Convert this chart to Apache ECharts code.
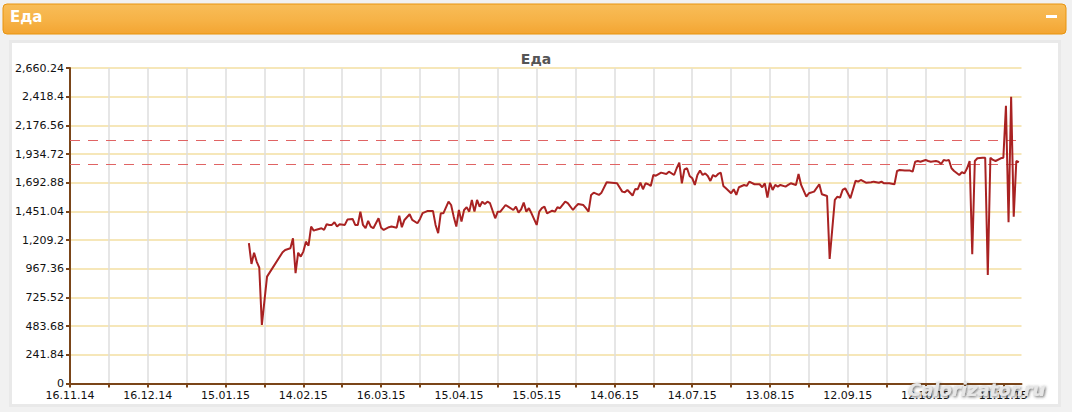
<!DOCTYPE html>
<html>
<head>
<meta charset="utf-8">
<script src="https://cdn.jsdelivr.net/npm/echarts@6/dist/echarts.min.js"></script>
<style>
html,body{margin:0;padding:0;background:#f1f1f1;}
#c{width:1072px;height:412px;}
</style>
</head>
<body>
<div id="c"></div>
<script>
// ---- data ----
const startDate = [2014, 10, 16]; // 16.11.14 = day 0 of the x axis
const dayOffsets = [69,70,71,72,73,74,76,82,83,85,86,87,88,89,90,91,92,93,94,95,97,98,99,100,101,102,103,104,106,107,109,110,111,112,113,114,115,116,117,119,120,121,123,124,126,127,128,129,131,132,134,135,136,138,140,141,142,143,144,146,147,148,149,150,151,152,153,154,155,156,157,158,159,160,161,162,164,165,166,168,169,171,172,173,174,175,176,177,178,180,181,182,183,184,186,187,188,189,191,192,194,195,196,198,199,200,201,202,204,205,207,209,211,213,214,215,217,218,219,220,221,222,223,224,225,226,228,230,231,233,234,235,236,237,238,239,240,241,242,243,244,245,246,247,248,249,250,251,252,253,255,256,257,258,260,261,262,264,265,266,267,268,269,270,271,272,273,274,276,277,278,280,281,282,284,285,287,289,290,292,293,295,296,297,298,299,300,301,303,304,305,307,309,310,312,313,314,316,318,319,320,322,324,325,326,327,328,330,331,332,334,335,336,337,338,339,340,341,343,344,345,346,347,348,349,350,352,353,354,355,356,357,359,360,361,362,363,364,365,366];
const foodKcal = [1183,1008,1103,1028,977,494,901,1107,1126,1140,1225,930,1103,1070,1112,1196,1162,1323,1289,1297,1309,1295,1343,1337,1337,1360,1323,1343,1337,1382,1388,1337,1337,1449,1337,1309,1371,1323,1309,1393,1314,1295,1318,1323,1314,1415,1318,1379,1427,1379,1351,1388,1436,1455,1455,1337,1267,1435,1435,1533,1505,1407,1323,1463,1365,1463,1486,1449,1548,1449,1548,1491,1533,1514,1533,1520,1393,1449,1449,1505,1491,1463,1491,1440,1469,1525,1449,1478,1435,1337,1449,1478,1491,1435,1457,1449,1486,1478,1533,1520,1463,1491,1514,1505,1478,1449,1590,1609,1590,1609,1697,1693,1688,1618,1612,1632,1585,1640,1638,1693,1638,1688,1680,1666,1758,1752,1778,1767,1786,1758,1815,1862,1688,1806,1815,1750,1731,1674,1758,1795,1758,1772,1750,1708,1758,1744,1767,1778,1666,1646,1604,1638,1590,1655,1674,1666,1702,1680,1680,1680,1655,1688,1567,1693,1632,1674,1660,1674,1660,1674,1688,1674,1767,1674,1575,1604,1618,1680,1596,1581,1050,1548,1575,1567,1632,1646,1604,1562,1710,1702,1716,1693,1697,1702,1693,1702,1688,1688,1680,1792,1800,1795,1795,1786,1870,1876,1870,1885,1876,1870,1876,1870,1851,1885,1879,1885,1815,1792,1758,1781,1772,1815,1876,1090,1876,1899,1904,1904,915,1904,1885,1876,1899,1904,2342,1360,2418,1407,1876,1866];
const normLines = [2050, 1850];
const yMax = 2660.24, yStep = 241.84;
const xMaxDay = 367, xTickDays = 15, xLabelDays = 30;
const panelTitle = 'Еда';
const chartTitle = 'Еда';
const watermark = 'Calorizator.ru';

// ---- helpers ----
const base = Date.UTC(startDate[0], startDate[1], startDate[2]);
function dayLabel(v){
  const d = new Date(base + v*86400000);
  const p = n => String(n).padStart(2,'0');
  return p(d.getUTCDate()) + '.' + p(d.getUTCMonth()+1) + '.' + p(d.getUTCFullYear()%100);
}
function numLabel(v){
  const r = Math.round(v*100)/100;
  let s = r.toFixed(2).replace(/\.?0+$/,'');
  const parts = s.split('.');
  parts[0] = parts[0].replace(/\B(?=(\d{3})+(?!\d))/g, ',');
  return parts.join('.');
}
const seriesData = dayOffsets.map((d,i)=>[d, foodKcal[i]]);
const tickVals = []; for(let v=0; v<=xMaxDay; v+=xTickDays) tickVals.push(v);
const labelVals = []; for(let v=0; v<=xMaxDay; v+=xLabelDays) labelVals.push(v);

const chart = echarts.init(document.getElementById('c'), null, {renderer:'svg'});
const font = 'DejaVu Sans, Verdana, sans-serif';
chart.setOption({
  animation:false,
  backgroundColor:'#f1f1f1',
  graphic:[
    {type:'rect', z:-10, shape:{x:9,y:40,width:1052,height:367}, style:{fill:'#e9e9e9'}},
    {type:'rect', z:-9, shape:{x:12,y:43,width:1046,height:361}, style:{fill:'#ffffff'}},
    {type:'rect', z:-8, shape:{x:3,y:4,width:1063,height:30,r:4},
      style:{stroke:'#e8940f', lineWidth:1,
        fill:new echarts.graphic.LinearGradient(0,0,0,1,[{offset:0,color:'#f8bd58'},{offset:0.55,color:'#f6b246'},{offset:1,color:'#f3a532'}])}},
    {type:'text', z:10, left:10, top:9, style:{text:panelTitle, fill:'#ffffff', font:'bold 15px '+font}},
    {type:'rect', z:10, shape:{x:1046,y:15,width:11,height:3}, style:{fill:'#ffffff'}},
    {type:'text', z:20, left:908, top:380, style:{text:watermark, fill:'#e6e6e6', font:'italic bold 18px '+font,
      textShadowColor:'rgba(60,60,60,0.8)', textShadowBlur:3, textShadowOffsetX:1, textShadowOffsetY:1}}
  ],
  title:{text:chartTitle, left:'center', top:47, textStyle:{fontSize:14, fontWeight:'bold', color:'#555', fontFamily:font}},
  grid:{left:70, right:50.5, top:68, bottom:28.5, outerBoundsMode:'none', containLabel:false},
  xAxis:{type:'value', min:0, max:xMaxDay, interval:xTickDays,
    axisLine:{show:true, onZero:false, lineStyle:{color:'#7a4519', width:2}},
    axisTick:{show:true, length:4, customValues:tickVals, lineStyle:{color:'#7a4519', width:2}},
    axisLabel:{customValues:labelVals, formatter:v => (v % xLabelDays === 0 ? dayLabel(v) : ''), color:'#111', fontSize:11, fontFamily:font, margin:6},
    splitLine:{show:true, showMaxLine:false, lineStyle:{color:'#dedede', width:1.5}}
  },
  yAxis:{type:'value', min:0, max:yMax, interval:yStep,
    axisLine:{show:true, lineStyle:{color:'#7a4519', width:2}},
    axisTick:{show:true, length:4, lineStyle:{color:'#7a4519', width:2}},
    axisLabel:{formatter:numLabel, color:'#111', fontSize:11, fontFamily:font, margin:6},
    splitLine:{show:true, lineStyle:{color:'#f3dfa2', width:1.5}}
  },
  series:[{
    type:'line', data:seriesData, showSymbol:false, symbol:'none',
    lineStyle:{color:'#a92222', width:2}, z:5,
    markLine:{silent:true, symbol:'none', label:{show:false},
      lineStyle:{color:'#e06464', type:[10,8], width:1},
      data:normLines.map(v=>({yAxis:v}))}
  }]
});
</script>
</body>
</html>
